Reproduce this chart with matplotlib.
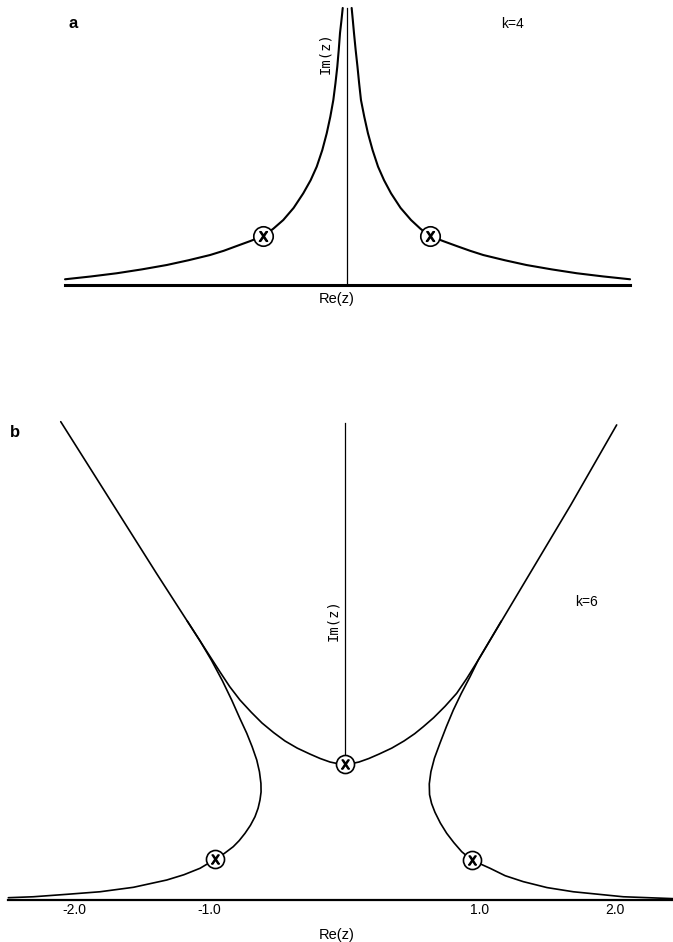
import matplotlib
matplotlib.use("Agg")
import matplotlib.pyplot as plt

# ---------------- Panel a (k = 4) ----------------
a_left_x = [-2.907, -2.640, -2.374, -2.115, -1.859, -1.635, -1.412, -1.270, -1.137, -1.000, -0.863,
            -0.760, -0.657, -0.550, -0.451, -0.375, -0.312, -0.255, -0.209, -0.172, -0.141,
            -0.119, -0.100, -0.085, -0.072, -0.057, -0.044]
a_left_y = [0.059, 0.088, 0.121, 0.161, 0.206, 0.255, 0.309, 0.353, 0.402, 0.452, 0.505,
            0.580, 0.670, 0.795, 0.945, 1.080, 1.220, 1.390, 1.564, 1.735, 1.907,
            2.080, 2.251, 2.425, 2.598, 2.730, 2.856]
a_right_x = [0.048, 0.060, 0.072, 0.089, 0.108, 0.125, 0.144, 0.178, 0.216, 0.264, 0.320,
             0.382, 0.454, 0.552, 0.660, 0.757, 0.856, 0.993, 1.130, 1.268, 1.405, 1.628,
             1.850, 2.110, 2.370, 2.644, 2.918]
a_right_y = [2.856, 2.730, 2.598, 2.425, 2.251, 2.080, 1.907, 1.735, 1.564, 1.390, 1.220,
             1.080, 0.945, 0.795, 0.670, 0.580, 0.505, 0.452, 0.402, 0.353, 0.309, 0.255,
             0.206, 0.161, 0.121, 0.088, 0.059]
a_saddle_x = [-0.863, 0.856]
a_saddle_y = [0.505, 0.505]
a_imaxis_top = 2.856
a_base_bounds = [-2.907, 2.918]

# ---------------- Panel b (k = 6) ----------------
b_u_x = [-2.102, -1.814, -1.393, -1.070, -0.922, -0.850, -0.774, -0.690, -0.611, -0.525, -0.441,
         -0.350, -0.256, -0.180, -0.107, -0.050, 0.000, 0.050, 0.107, 0.180, 0.256, 0.350,
         0.441, 0.520, 0.584, 0.660, 0.745, 0.831, 0.905, 0.991, 1.300, 1.676, 2.016]
b_u_y = [3.543, 3.087, 2.420, 1.919, 1.689, 1.580, 1.481, 1.390, 1.311, 1.240, 1.178,
         1.125, 1.081, 1.048, 1.022, 1.010, 1.007, 1.010, 1.022, 1.048, 1.081, 1.125,
         1.178, 1.232, 1.284, 1.350, 1.435, 1.531, 1.640, 1.778, 2.296, 2.926, 3.519]
b_inl_x = [-1.165, -1.070, -0.985, -0.905, -0.835, -0.775, -0.724, -0.684, -0.650, -0.630,
           -0.619, -0.618, -0.626, -0.640, -0.663, -0.697, -0.737, -0.780, -0.824, -0.890,
           -0.959, -1.070, -1.190, -1.317, -1.564, -1.811, -2.058, -2.305, -2.490]
b_inl_y = [2.067, 1.919, 1.775, 1.625, 1.480, 1.345, 1.235, 1.135, 1.037, 0.950,
           0.864, 0.800, 0.741, 0.680, 0.617, 0.553, 0.494, 0.440, 0.395, 0.345,
           0.301, 0.235, 0.187, 0.148, 0.094, 0.061, 0.042, 0.024, 0.017]
b_inr_x = [1.162, 0.991, 0.930, 0.865, 0.806, 0.755, 0.707, 0.666, 0.640, 0.628, 0.630,
           0.645, 0.670, 0.710, 0.757, 0.810, 0.868, 0.942, 1.078, 1.190, 1.324, 1.500,
           1.695, 2.065, 2.436]
b_inr_y = [2.067, 1.778, 1.654, 1.530, 1.407, 1.285, 1.161, 1.050, 0.950, 0.860, 0.780,
           0.715, 0.650, 0.570, 0.494, 0.425, 0.358, 0.296, 0.235, 0.180, 0.136, 0.092,
           0.061, 0.024, 0.010]
b_saddle_x = [-0.959, 0.000, 0.942]
b_saddle_y = [0.301, 1.007, 0.296]
b_imaxis = [1.08, 3.53]
b_base_bounds = [-2.49, 2.44]
b_ticks = [-2, -1, 1, 2]
b_ticklabels = ["-2.0", "-1.0", "1.0", "2.0"]

W, H = 673, 942
fig = plt.figure(figsize=(W / 100, H / 100), dpi=100)
fig.patch.set_facecolor("white")

sans = ["Liberation Sans", "DejaVu Sans"]
mono = ["DejaVu Sans Mono", "DejaVu Sans"]


def px_axes(left, top, right, bottom):
    return fig.add_axes([left / W, 1 - bottom / H, (right - left) / W, (bottom - top) / H])


def style(ax, bounds, lw):
    for s in ("top", "right", "left"):
        ax.spines[s].set_visible(False)
    ax.spines["bottom"].set_bounds(*bounds)
    ax.spines["bottom"].set_linewidth(lw)
    ax.set_yticks([])
    ax.set_facecolor("none")


def saddles(ax, xs, ys, ms):
    ax.plot(xs, ys, ls="none", marker="o", ms=ms, mfc="white", mec="black", mew=1.2,
            zorder=4, clip_on=False)
    ax.plot(xs, ys, ls="none", marker=r"$\mathsf{X}$", ms=ms * 0.5, color="black",
            zorder=5, clip_on=False)


line_kw = dict(color="black", solid_joinstyle="round", solid_capstyle="round", clip_on=False)

# ---- panel a ----
ax = px_axes(0, 0, 673, 285)
pa = 97.0
ax.set_xlim(-347 / pa, 326 / pa)
ax.set_ylim(0, 285 / pa)
style(ax, a_base_bounds, 2.2)
ax.set_xticks([])
ax.plot(a_left_x, a_left_y, lw=1.5, **line_kw)
ax.plot(a_right_x, a_right_y, lw=1.5, **line_kw)
ax.plot([0, 0], [0, a_imaxis_top], color="black", lw=0.9, clip_on=False)
saddles(ax, a_saddle_x, a_saddle_y, 14)
ax.text(-2.825, 2.70, "a", fontsize=12, fontweight="bold", family=sans, ha="center", va="center")
ax.text(1.711, 2.69, "k=4", fontsize=10, family=sans, ha="center", va="center")
ax.text(-0.227, 2.39, "Im(z)", fontsize=10, family=mono, rotation=90, ha="center", va="center")
ax.set_xlabel("Re(z)", fontsize=10.5, family=sans, labelpad=5)

# ---- panel b ----
bx = px_axes(0, 380, 673, 900)
pb = 135.0
bx.set_xlim(-344.5 / pb, 328.5 / pb)
bx.set_ylim(0, 520 / pb)
style(bx, b_base_bounds, 1.6)
bx.set_xticks(b_ticks, labels=b_ticklabels)
bx.tick_params(axis="x", length=0, pad=2, labelsize=10)
for t in bx.get_xticklabels():
    t.set_family(sans)
bx.plot(b_u_x, b_u_y, lw=1.2, **line_kw)
bx.plot(b_inl_x, b_inl_y, lw=1.2, **line_kw)
bx.plot(b_inr_x, b_inr_y, lw=1.2, **line_kw)
bx.plot([0, 0], b_imaxis, color="black", lw=0.9, clip_on=False)
saddles(bx, b_saddle_x, b_saddle_y, 13)
bx.text(-2.441, 3.46, "b", fontsize=12, fontweight="bold", family=sans, ha="center", va="center")
bx.text(1.794, 2.21, "k=6", fontsize=10, family=sans, ha="center", va="center")
bx.text(-0.085, 2.07, "Im(z)", fontsize=10, family=mono, rotation=90, ha="center", va="center")
bx.set_xlabel("Re(z)", fontsize=10.5, family=sans, labelpad=8)

fig.savefig("out.png", dpi=100, facecolor="white")
